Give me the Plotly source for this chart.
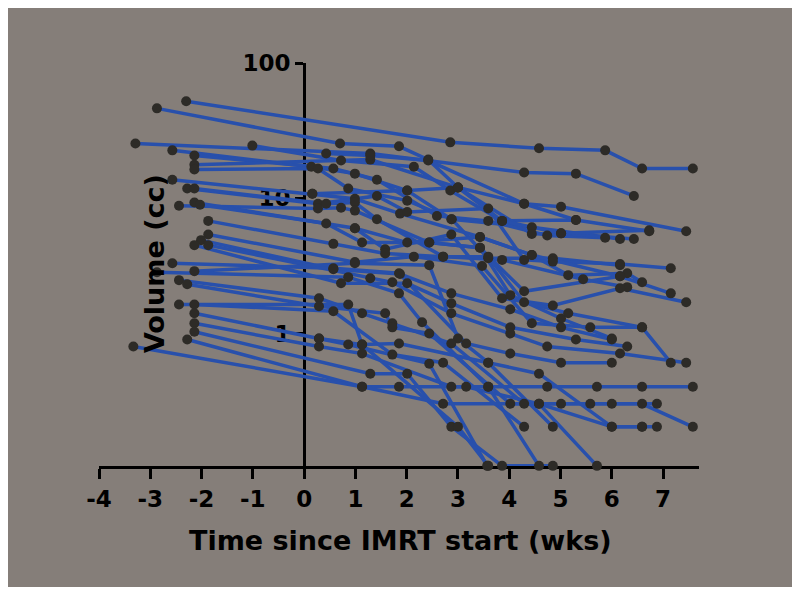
import plotly.graph_objects as go

# ---- data: time since IMRT start (weeks) and volume (cc) per patient ----
wk_01 = [-2.30, 2.85, 4.58, 5.87, 6.59, 7.58]
cc_01 = [52.2, 25.9, 23.4, 22.6, 16.6, 16.6]
wk_02 = [-2.87, 0.70, 1.85, 2.42, 3.00, 4.29, 5.01, 7.45]
cc_02 = [46.2, 25.4, 24.2, 19.3, 12.0, 9.1, 8.65, 5.7]
wk_03 = [-3.29, 1.29, 4.29, 5.30, 6.43]
cc_03 = [25.4, 21.4, 15.5, 15.2, 10.4]
wk_04 = [-1.01, 0.72, 2.14, 2.85, 3.86, 5.30, 6.73]
cc_04 = [24.5, 19.0, 17.1, 11.4, 6.8, 6.9, 5.7]
wk_05 = [-2.57, 0.14, 0.99, 2.01, 2.87, 4.44, 6.16]
cc_05 = [22.6, 17.1, 15.2, 11.4, 7.0, 6.1, 5.0]
wk_06 = [-2.14, 0.57, 1.42, 2.59, 3.59, 4.74, 5.87]
cc_06 = [20.7, 16.6, 13.7, 7.4, 6.8, 5.3, 5.1]
wk_07 = [-2.14, 1.29, 3.00, 4.44, 5.01, 6.43]
cc_07 = [17.7, 19.3, 12.0, 5.45, 5.5, 5.0]
wk_08 = [-2.14, 0.27, 0.86, 2.01, 2.88, 3.59, 4.85, 6.16]
cc_08 = [16.3, 16.6, 11.8, 9.6, 7.0, 3.6, 3.6, 3.2]
wk_09 = [-2.57, 0.16, 0.99, 1.87, 3.43, 4.44, 5.15, 6.30, 6.59]
cc_09 = [13.7, 10.8, 9.9, 7.7, 5.17, 3.8, 2.70, 2.79, 2.39]
wk_10 = [-2.28, 0.27, 1.42, 2.01, 3.59, 4.29, 4.85, 6.16, 7.15]
cc_10 = [11.8, 9.1, 10.4, 7.9, 8.4, 3.5, 3.4, 3.26, 3.04]
wk_11 = [-2.14, 0.43, 0.99, 1.42, 2.71, 3.86, 5.44, 6.30]
cc_11 = [11.8, 9.1, 9.3, 7.0, 3.7, 3.5, 2.52, 2.20]
wk_12 = [-2.44, 0.27, 0.72, 0.99, 2.44, 3.43, 4.29, 6.16, 7.15]
cc_12 = [8.8, 8.4, 8.5, 8.1, 4.7, 4.3, 2.05, 2.65, 1.98]
wk_13 = [-2.14, 0.99, 1.58, 2.87, 3.86, 4.85, 6.16, 7.45]
cc_13 = [9.3, 6.0, 4.2, 5.4, 1.82, 1.61, 2.16, 1.70]
wk_14 = [-2.03, 0.43, 1.13, 2.44, 3.43, 4.02, 5.01, 6.00]
cc_14 = [8.95, 6.5, 4.7, 4.7, 4.3, 1.92, 1.29, 0.918]
wk_15 = [-1.87, 0.57, 1.58, 2.71, 3.59, 4.29, 5.15, 6.59, 7.15]
cc_15 = [6.8, 4.6, 3.9, 3.7, 3.7, 1.70, 1.41, 1.11, 0.608]
wk_16 = [-1.87, 0.99, 2.14, 3.47, 4.44, 5.58, 6.59]
cc_16 = [5.4, 3.37, 3.7, 3.15, 1.19, 1.11, 1.11]
wk_17 = [-2.01, 0.57, 1.87, 2.87, 4.02, 5.01, 6.00]
cc_17 = [4.9, 2.99, 2.75, 1.98, 1.51, 1.11, 0.902]
wk_18 = [-2.14, 0.72, 2.01, 2.87, 4.02, 5.30, 6.30]
cc_18 = [4.5, 2.35, 2.35, 1.67, 1.11, 0.902, 0.80]
wk_19 = [-1.87, 1.29, 1.72, 2.87, 4.02, 4.74, 6.16, 7.45]
cc_19 = [4.5, 2.56, 2.39, 1.41, 1.00, 0.80, 0.71, 0.608]
wk_20 = [-2.57, 0.57, 1.85, 3.16, 4.02, 5.01, 6.00]
cc_20 = [3.31, 3.04, 2.79, 0.843, 0.71, 0.608, 0.608]
wk_21 = [-2.14, 0.99, 2.44, 3.00, 3.59, 4.58, 6.00, 6.59, 6.88]
cc_21 = [2.89, 3.31, 3.2, 0.918, 0.608, 0.504, 0.204, 0.204, 0.204]
wk_22 = [-2.87, 0.86, 1.85, 2.30, 3.59, 4.74, 5.71, 6.59, 7.58]
cc_22 = [2.84, 2.61, 1.98, 1.21, 0.404, 0.404, 0.404, 0.404, 0.404]
wk_23 = [-2.44, 0.29, 1.13, 1.72, 2.87, 4.29, 5.01, 5.58, 6.88]
cc_23 = [2.48, 1.82, 1.41, 1.19, 0.843, 0.302, 0.302, 0.302, 0.302]
wk_24 = [-2.28, 0.29, 1.58, 1.72, 2.44, 4.02, 6.00, 6.59, 7.58]
cc_24 = [2.31, 1.59, 1.41, 1.11, 1.00, 0.302, 0.302, 0.302, 0.204]
wk_25 = [-2.44, 0.86, 1.13, 1.85, 3.59, 4.85]
cc_25 = [1.64, 1.64, 0.828, 0.843, 0.608, 0.204]
wk_26 = [-2.14, 0.57, 1.72, 2.71, 4.29]
cc_26 = [1.64, 1.46, 0.698, 0.608, 0.204]
wk_27 = [-2.14, 0.29, 0.86, 2.44, 3.57]
cc_27 = [1.41, 0.918, 0.828, 0.598, 0.105]
wk_28 = [-2.14, 0.29, 1.13, 2.87, 3.16, 4.58, 5.71]
cc_28 = [1.19, 0.80, 0.71, 0.404, 0.404, 0.302, 0.105]
wk_29 = [-2.14, 1.29, 2.01, 2.87, 3.86, 4.85]
cc_29 = [1.03, 0.504, 0.504, 0.204, 0.105, 0.105]
wk_30 = [-2.28, 1.13, 1.85, 3.59, 4.58]
cc_30 = [0.902, 0.404, 0.404, 0.404, 0.105]
wk_31 = [-3.33, 1.13, 2.71, 4.58, 6.00, 6.59]
cc_31 = [0.80, 0.404, 0.302, 0.302, 0.204, 0.204]
wk_32 = [0.29, 1.13, 3.00, 3.59]
cc_32 = [0.918, 0.828, 0.204, 0.105]
wk_33 = [0.43, 1.29, 2.42, 4.29, 5.30]
cc_33 = [21.4, 20.7, 19.0, 9.1, 6.9]
wk_34 = [0.16, 2.01, 3.00, 3.86, 5.01, 6.73]
cc_34 = [10.8, 11.4, 12.0, 6.8, 5.5, 5.8]
wk_35 = [0.99, 2.01, 3.43, 4.44, 6.16]
cc_35 = [6.0, 4.7, 5.17, 3.8, 2.65]

patients = [
    (wk_01, cc_01), (wk_02, cc_02), (wk_03, cc_03), (wk_04, cc_04), (wk_05, cc_05),
    (wk_06, cc_06), (wk_07, cc_07), (wk_08, cc_08), (wk_09, cc_09), (wk_10, cc_10),
    (wk_11, cc_11), (wk_12, cc_12), (wk_13, cc_13), (wk_14, cc_14), (wk_15, cc_15),
    (wk_16, cc_16), (wk_17, cc_17), (wk_18, cc_18), (wk_19, cc_19), (wk_20, cc_20),
    (wk_21, cc_21), (wk_22, cc_22), (wk_23, cc_23), (wk_24, cc_24), (wk_25, cc_25),
    (wk_26, cc_26), (wk_27, cc_27), (wk_28, cc_28), (wk_29, cc_29), (wk_30, cc_30),
    (wk_31, cc_31), (wk_32, cc_32), (wk_33, cc_33), (wk_34, cc_34), (wk_35, cc_35),
]

x_ticks = [-4, -3, -2, -1, 0, 1, 2, 3, 4, 5, 6, 7]
x_tick_text = ["-4", "-3", "-2", "-1", "0", "1", "2", "3", "4", "5", "6", "7"]
y_ticks = [1, 10, 100]
y_tick_text = ["1", "10", "100"]

BG = "rgb(133,126,121)"
LINE = "rgb(40,80,172)"
DOT = "rgb(45,43,39)"
FONT = "DejaVu Sans"

xs, ys = [], []
for wk, cc in patients:
    xs += wk + [None]
    ys += cc + [None]

fig = go.Figure()
fig.add_trace(go.Scatter(x=xs, y=ys, mode="lines", line=dict(color=LINE, width=3.5),
                         hoverinfo="skip", showlegend=False, cliponaxis=False))
fig.add_trace(go.Scatter(x=xs, y=ys, mode="markers",
                         marker=dict(color=DOT, size=10), showlegend=False, cliponaxis=False))

X0, X1 = -4, 7.7
fig.update_layout(
    width=792, height=586,
    margin=dict(l=91, r=101, t=55, b=128),
    paper_bgcolor="white",
    plot_bgcolor=BG,
    showlegend=False,
    xaxis=dict(range=[X0, X1], tickvals=x_ticks, ticktext=x_tick_text,
               ticks="outside", ticklen=10, tickwidth=3,
               tickcolor="black", showline=True, linewidth=3, linecolor="black",
               showgrid=False, zeroline=False, layer="below traces",
               tickfont=dict(family=FONT, size=23, color="black", weight="bold")),
    yaxis=dict(type="log", range=[-0.98, 2.0], tickvals=y_ticks, ticktext=y_tick_text,
               anchor="free", position=(0 - X0) / (X1 - X0),
               ticks="outside", ticklen=8, tickwidth=3, tickcolor="black",
               showline=True, linewidth=3, linecolor="black",
               showgrid=False, zeroline=False, layer="below traces",
               tickfont=dict(family=FONT, size=23, color="black", weight="bold")),
    shapes=[dict(type="rect", xref="paper", yref="paper", x0=-0.152, x1=1.16,
                 y0=-0.300, y1=1.14, fillcolor=BG, line=dict(width=0), layer="below")],
    annotations=[
        dict(text="Time since IMRT start (wks)", xref="paper", yref="paper", x=0.5017, y=-0.186,
             xanchor="center", yanchor="middle", showarrow=False,
             font=dict(family=FONT, size=27, color="black", weight="bold")),
        dict(text="Volume (cc)", xref="paper", yref="paper", x=0.0917, y=0.501, textangle=-90,
             xanchor="center", yanchor="middle", showarrow=False,
             font=dict(family=FONT, size=27, color="black", weight="bold")),
    ],
)

fig.write_html("out.html")
